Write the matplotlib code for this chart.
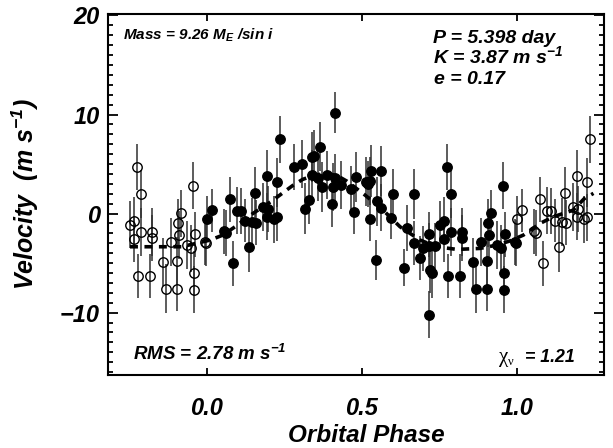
import numpy as np
import matplotlib.pyplot as plt
from matplotlib.ticker import MultipleLocator, FormatStrFormatter

# phase-folded radial velocities (filled points, phase 0..1)
phase = np.array([0.001, 0.019, 0.055, 0.062, 0.074, 0.086, 0.097, 0.110, 0.125, 0.137,
                  0.148, 0.156, 0.160, 0.183, 0.195, 0.196, 0.199, 0.218, 0.226, 0.226,
                  0.238, 0.281, 0.307, 0.318, 0.329, 0.339, 0.339, 0.348, 0.359, 0.366,
                  0.372, 0.390, 0.403, 0.409, 0.415, 0.415, 0.434, 0.466, 0.476, 0.483,
                  0.514, 0.520, 0.527, 0.527, 0.530, 0.546, 0.549, 0.563, 0.563, 0.594,
                  0.602, 0.638, 0.646, 0.669, 0.669, 0.689, 0.697, 0.716, 0.718, 0.719,
                  0.721, 0.728, 0.737, 0.753, 0.765, 0.767, 0.777, 0.778, 0.789, 0.789,
                  0.818, 0.823, 0.825, 0.861, 0.869, 0.885, 0.906, 0.906, 0.908, 0.911,
                  0.916, 0.936, 0.950, 0.955, 0.960, 0.960, 0.963, 0.994, 0.998])
vel = np.array([-0.53, 0.33, -1.80, -1.95, 1.44, -5.04, 0.30, 0.28, -0.71, -3.36,
                -0.84, 2.11, -0.91, 0.69, 3.80, -0.30, 0.46, -0.59, -0.38, 3.14,
                7.49, 4.69, 5.03, 0.51, 1.34, 5.70, 3.90, 5.84, 3.62, 6.76,
                2.68, 3.90, 0.96, 2.68, 10.20, 3.62, 2.88, 2.45, 0.18, 3.67,
                3.22, 2.96, 3.29, -0.51, 4.30, -4.68, 1.23, 4.30, 0.61, -0.40,
                1.97, -5.45, -1.44, 1.97, -2.99, -4.47, -3.52, -10.20, -2.11, -3.24,
                -5.67, -6.05, -3.26, -1.11, -0.73, -2.58, 4.71, -6.30, 1.97, -1.84,
                -6.30, -1.84, -2.48, -4.88, -7.57, -2.85, -4.79, -7.57, -0.94, -2.15,
                0.02, -3.16, -3.52, 2.83, -6.05, -7.69, -2.11, -2.88, -3.00])
err = np.array([2.3, 2.2, 2.3, 2.3, 2.3, 2.3, 2.4, 2.3, 2.2, 2.5,
                2.4, 2.6, 2.3, 2.4, 2.6, 2.4, 2.3, 2.4, 2.4, 2.5,
                2.4, 2.3, 2.4, 2.6, 2.4, 2.5, 2.5, 2.6, 2.4, 2.5,
                2.5, 2.4, 2.3, 2.4, 2.1, 2.4, 2.4, 2.4, 2.2, 2.5,
                2.5, 2.3, 2.4, 2.3, 2.6, 2.0, 2.5, 2.5, 2.4, 2.2,
                2.5, 1.9, 2.3, 2.5, 2.2, 2.2, 2.3, 2.4, 2.3, 2.3,
                2.4, 2.5, 2.3, 2.4, 2.4, 2.3, 2.3, 2.2, 2.4, 2.4,
                2.2, 2.4, 2.3, 2.4, 2.45, 2.4, 2.4, 2.3, 2.4, 2.4,
                2.4, 2.4, 2.4, 2.4, 2.3, 2.35, 2.3, 2.3, 2.3])

# orbit model (dashed)
model_phase = [-0.247, -0.08, 0.011, 0.053, 0.092, 0.15, 0.215, 0.248, 0.28, 0.31,
               0.345, 0.382, 0.42, 0.452, 0.511, 0.566, 0.624, 0.689, 0.743, 0.807,
               0.882, 0.936, 0.98, 1.022, 1.076, 1.119, 1.183, 1.218, 1.248]
model_vel = [-3.35, -3.35, -2.68, -2.17, -1.33, 0.02, 1.36, 2.14, 2.88, 3.45,
             3.85, 4.06, 3.85, 3.28, 1.87, 0.45, -1.33, -2.68, -3.35, -3.62,
             -3.52, -3.18, -2.75, -2.17, -0.99, -0.32, 0.35, 1.5, 2.04]

left = phase > 0.745   # repeated at phase - 1
right = phase < 0.245  # repeated at phase + 1

plt.rcParams['font.family'] = ['Liberation Sans', 'DejaVu Sans']
plt.rcParams['font.weight'] = 'bold'
plt.rcParams['font.style'] = 'italic'
plt.rcParams['axes.labelweight'] = 'bold'
plt.rcParams['mathtext.fontset'] = 'custom'
plt.rcParams['mathtext.rm'] = 'Liberation Sans:bold:italic'
plt.rcParams['mathtext.it'] = 'Liberation Sans:bold:italic'
plt.rcParams['mathtext.bf'] = 'Liberation Sans:bold:italic'

fig = plt.figure(figsize=(6.13, 4.48), dpi=100)
ax = fig.add_axes([108/613, 1-375/448, 496/613, 361/448])

ebar = dict(capsize=0, ecolor='#303030', elinewidth=1.1, ls='none', marker='o', ms=6.8)
ax.errorbar(phase, vel, yerr=err, mfc='black', mec='black', **ebar)
ax.errorbar(phase[left]-1, vel[left], yerr=err[left], mfc='none', mec='black', mew=1.0, **ebar)
ax.errorbar(phase[right]+1, vel[right], yerr=err[right], mfc='none', mec='black', mew=1.0, **ebar)
ax.plot(model_phase, model_vel, color='black', lw=2.6, dashes=(2.2, 1.8), zorder=5)

ax.set_xlim(-0.318, 1.282)
ax.set_ylim(-16.3, 20.15)
ax.set_xticks([0.0, 0.5, 1.0])
ax.xaxis.set_major_formatter(FormatStrFormatter('%.1f'))
ax.yaxis.set_major_locator(MultipleLocator(10))
ax.yaxis.set_minor_locator(MultipleLocator(1))
ax.tick_params(axis='both', which='both', direction='in', top=True, right=True, width=1.3)
ax.tick_params(axis='x', which='major', length=5, pad=16, labelsize=17)
ax.tick_params(axis='y', which='major', length=7, pad=6, labelsize=17)
ax.tick_params(axis='y', which='minor', length=3.6)
for s in ax.spines.values():
    s.set_linewidth(1.5)

ax.set_xlabel('Orbital Phase', fontsize=17.5, fontweight='bold')
ax.xaxis.set_label_coords(0.52, -0.136)
ax.set_ylabel(r'Velocity  (m s$^{-1}$)', fontsize=18, fontweight='bold')
ax.yaxis.set_label_coords(-0.135, 0.5)

ax.text(0.030, 0.928, r'Mass = 9.26 M$_E$ /sin $i$', transform=ax.transAxes, fontsize=11, va='baseline')
ax.text(0.655, 0.920, 'P = 5.398 day', transform=ax.transAxes, fontsize=14, va='baseline')
ax.text(0.655, 0.864, r'K = 3.87 m s$^{-1}$', transform=ax.transAxes, fontsize=14, va='baseline')
ax.text(0.657, 0.806, 'e = 0.17', transform=ax.transAxes, fontsize=14, va='baseline')
ax.text(0.050, 0.042, r'RMS = 2.78 m s$^{-1}$', transform=ax.transAxes, fontsize=13.5, va='baseline')
ax.text(0.788, 0.036, 'χ', transform=ax.transAxes, fontsize=15, va='baseline',
        family='Liberation Serif', weight='normal', style='normal')
ax.text(0.806, 0.028, 'ν', transform=ax.transAxes, fontsize=9, va='baseline',
        family='Liberation Serif', weight='normal', style='normal')
ax.text(0.8407, 0.036, '= 1.21', transform=ax.transAxes, fontsize=12.8, va='baseline')

fig.savefig('out.png', dpi=100)
